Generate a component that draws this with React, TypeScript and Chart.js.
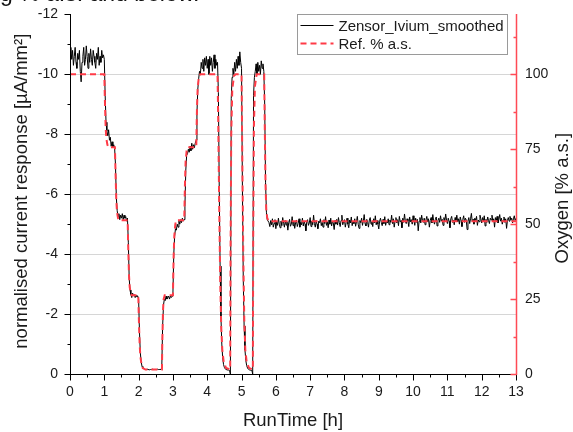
import React, { useEffect, useRef } from "react";
import { Chart, registerables } from "chart.js";

Chart.register(...registerables);

// ---------- labels ----------
const sensorLabel = "Zensor_Ivium_smoothed";
const refLabel = "Ref. % a.s.";
const xTitle = "RunTime [h]";
const yTitle = "normalised current response [µA/mm²]";
const y2Title = "Oxygen [% a.s.]";
const clippedCaption = "g % a.s. and below.";

// ---------- axis ticks ----------
const xMajorTicks = [0, 1, 2, 3, 4, 5, 6, 7, 8, 9, 10, 11, 12, 13];
const xMinorTicks = [0.5, 1.5, 2.5, 3.5, 4.5, 5.5, 6.5, 7.5, 8.5, 9.5, 10.5, 11.5, 12.5];
const yMajorTicks = [0, -2, -4, -6, -8, -10, -12];
const yMinorTicks = [-1, -3, -5, -7, -9, -11];
const y2MajorTicks = [0, 25, 50, 75, 100];
const y2MinorTicks = [12.5, 37.5, 62.5, 87.5, 112.5];

// ---------- reference oxygen (% a.s.) ----------
const refTimes = [
  0, 1.0, 1.02, 1.04, 1.06, 1.09, 1.12, 1.31, 1.33, 1.35, 1.37, 1.4, 1.43,
  1.68, 1.7, 1.72, 1.74, 1.77, 1.8, 1.99, 2.01, 2.03, 2.05, 2.08, 2.12, 2.2,
  2.68, 2.69, 2.71, 2.73, 2.76, 3.0, 3.02, 3.04, 3.07, 3.1, 3.33, 3.35, 3.37,
  3.4, 3.44, 3.68, 3.7, 3.72, 3.75, 3.8, 4.3, 4.32, 4.35, 4.38, 4.41, 4.44,
  4.48, 4.55, 4.67, 4.68, 4.7, 4.73, 4.78, 4.83, 5.0, 5.02, 5.05, 5.08, 5.11,
  5.15, 5.22, 5.33, 5.34, 5.36, 5.39, 5.44, 5.66, 5.68, 5.7, 5.72, 5.75, 5.8, 13,
];
const refOxygen = [
  100, 100, 90, 82, 78.5, 76.5, 75.7, 75.7, 66, 58, 54, 52, 51.3,
  51.3, 41, 33, 29, 27, 26.3, 26.3, 17, 10, 6, 3.5, 2, 1.5,
  1.5, 10, 21, 25, 26.3, 26.3, 39, 46, 50, 51.3, 51.3, 63, 71,
  74.5, 75.7, 75.7, 88, 95, 98.5, 100, 100, 85, 55, 30, 15, 8,
  4, 2, 1.5, 40, 80, 95, 99.5, 100, 100, 75, 40, 18, 8,
  4, 2, 1.5, 45, 82, 96, 100, 100, 80, 63, 55, 52, 51, 51,
];

// ---------- sensor current (µA/mm²), sampled ----------
const sensorFastStartH = 0;
const sensorFastStepH = 0.025;
const sensorFastValues = [
  -10.7, -10.9, -10.5, -10.8, -10.3, -10.6, -10.9, -10.4, -10.2, -10.7, -10.5, -10.8, -10.1, -9.75, -10.4, -10.6, -10.9, -10.3, -10.5, -10.95,
  -10.6, -10.2, -10.7, -10.4, -10.85, -10.5, -10.3, -10.8, -10.6, -10.4, -10.2, -10.7, -10.5, -10.9, -10.3, -10.6, -10.4, -10.8, -10.55, -10.65,
  -10.5, -9.3, -8.4, -8.1, -7.95, -8.15, -7.8, -7.9, -7.6, -7.75, -7.55, -7.65, -7.55, -7.0, -5.9, -5.45, -5.25, -5.35, -5.15, -5.3,
  -5.2, -5.35, -5.15, -5.3, -5.2, -5.25, -5.1, -5.2, -4.4, -3.2, -2.8, -2.65, -2.55, -2.7, -2.6, -2.65, -2.55, -2.62, -2.58, -2.6,
  -2.5, -1.4, -0.7, -0.4, -0.25, -0.2, -0.17, -0.16, -0.15, -0.15, -0.16, -0.15, -0.15, -0.14, -0.15, -0.15, -0.16, -0.15, -0.15, -0.15,
  -0.15, -0.15, -0.16, -0.15, -0.15, -0.15, -0.16, -0.2, -1.6, -2.3, -2.5, -2.45, -2.6, -2.5, -2.55, -2.6, -2.5, -2.6, -2.55, -2.6,
  -2.7, -4.0, -4.6, -4.85, -4.8, -5.0, -4.9, -5.1, -5.0, -5.15, -5.05, -5.2, -5.1, -5.15, -5.6, -6.8, -7.3, -7.35, -7.5, -7.4,
  -7.6, -7.45, -7.7, -7.5, -7.65, -7.55, -7.7, -7.8, -8.7, -9.5, -9.85, -10.1, -10.0, -10.4, -10.2, -10.5, -10.1, -10.55, -10.3, -10.6,
  -10.2, -10.5, -10.0, -10.6, -10.3, -10.55, -10.1, -10.4, -10.65, -10.2, -10.5, -10.3, -10.4, -9.4, -6.2, -3.6, -1.9, -1.0, -0.55, -0.32,
  -0.22, -0.17, -0.15, -0.14, -0.13, -0.13, -0.12, 0.0, -9.2, -9.9, -10.2, -10.0, -10.4, -10.1, -10.5, -10.2, -10.6, -10.3, -10.75, -10.4,
  -10.2, -6.3, -3.2, -1.6, -0.8, -0.45, -0.28, -0.2, -0.16, -0.14, -0.13, -0.13, -0.12, 0.0, -9.3, -9.9, -10.1, -10.35, -10.0, -10.4,
  -10.1, -10.3, -10.0, -10.45, -10.2, -10.35, -10.1, -9.0, -6.4, -5.4, -5.15,
];
const sensorTailStartH = 5.8;
const sensorTailStepH = 0.025;
const sensorTailValues = [
  -5.05, -4.92, -5.12, -4.98, -5.18, -4.9, -5.02, -5.15, -4.85, -5.08, -4.96, -5.2, -5.0, -4.88, -5.1, -4.95, -5.22, -5.03, -4.9, -5.12,
  -4.97, -5.08, -4.8, -5.05, -5.16, -4.93, -5.0, -5.25, -4.95, -5.1, -4.86, -5.04, -5.14, -4.92, -5.02, -5.18, -4.9, -5.06, -4.98, -5.2,
  -4.94, -5.1, -5.0, -4.78, -5.08, -5.15, -4.96, -5.04, -5.22, -4.92, -5.1, -4.98, -5.3, -5.02, -4.9, -5.12, -5.0, -4.85, -5.1, -5.05,
  -5.18, -4.95, -5.06, -4.9, -5.15, -5.02, -5.25, -4.96, -5.08, -4.88, -5.14, -5.0, -5.2, -4.94, -5.1, -5.04, -4.82, -5.12, -5.0, -5.16,
  -4.97, -5.22, -5.05, -4.92, -5.12, -5.3, -4.98, -5.08, -5.15, -4.9, -5.06, -5.2, -5.0, -4.88, -5.14, -5.04, -5.24, -4.95, -5.1, -5.02,
  -5.18, -4.93, -5.08, -5.26, -5.0, -4.86, -5.12, -5.05, -5.2, -4.96, -5.1, -5.32, -5.02, -4.94, -5.16, -5.06, -4.9, -5.14, -5.22, -5.0,
  -5.08, -4.92, -5.18, -5.04, -5.28, -4.98, -5.12, -5.0, -4.84, -5.1, -5.2, -5.06, -4.95, -5.16, -5.02, -5.25, -4.96, -5.1, -5.04, -5.18,
  -4.98, -5.14, -5.06, -5.3, -5.02, -5.18, -4.9, -5.1, -5.22, -5.04, -5.15, -4.95, -5.26, -5.08, -5.12, -4.88, -5.2, -5.06, -5.34, -5.1,
  -5.02, -5.18, -5.1, -4.92, -5.24, -5.08, -5.15, -5.0, -5.28, -5.12, -4.96, -5.2, -5.06, -5.16, -4.78, -5.1, -5.22, -5.04, -5.3, -5.12,
  -5.06, -5.2, -4.98, -5.14, -5.26, -5.08, -5.18, -4.9, -5.12, -5.22, -5.04, -5.32, -5.1, -5.0, -5.16, -5.24, -4.94, -5.12, -5.2, -5.06,
  -5.28, -5.1, -5.16, -4.96, -5.22, -5.08, -5.34, -5.14, -5.02, -5.2, -5.1, -4.88, -5.18, -5.26, -5.06, -5.14, -4.98, -5.22, -5.12, -5.3,
  -5.08, -5.18, -5.0, -5.24, -5.12, -4.92, -5.16, -5.28, -5.06, -5.2, -5.14, -4.82, -5.1, -5.22, -5.02, -5.18, -5.36, -5.08, -5.16, -5.0,
  -5.2, -5.12, -5.26, -4.96, -5.14, -5.08, -5.3, -5.18, -5.04, -5.22, -5.1, -5.28, -4.94, -5.16, -5.06, -5.24, -5.12, -5.02, -5.2, -5.14,
  -5.3, -5.08, -5.18, -4.9, -5.22, -5.12, -5.26, -5.04, -5.16, -5.32, -5.1, -5.2, -5.0, -5.14, -5.24, -5.06, -5.18, -4.86, -5.12, -5.22,
  -5.1, -5.26, -5.14, -5.2, -5.04, -5.18, -5.28, -5.12, -5.2,
];

// ---------- styles ----------
const FONT = "'Liberation Sans', Arial, Helvetica, sans-serif";
const RED = "#ff3b47";
const AXIS_RED = "#ff4a55";
const TEXT = "#1a1a1a";
const GRID = "#d6d6d6";

function buildSensorPoints() {
  const pts: { x: number; y: number }[] = [];
  sensorFastValues.forEach((v, i) => pts.push({ x: +(sensorFastStartH + i * sensorFastStepH).toFixed(4), y: v }));
  sensorTailValues.forEach((v, i) => pts.push({ x: +(sensorTailStartH + i * sensorTailStepH).toFixed(4), y: v }));
  return pts;
}

const decorPlugin = {
  id: "decor",
  afterDraw(chart: any) {
    const ctx = chart.ctx as CanvasRenderingContext2D;
    const { left, right, top, bottom } = chart.chartArea;
    const xs = chart.scales.x;
    const ys = chart.scales.y;
    const y2 = chart.scales.y2;
    const L = Math.round(left) + 0.5;
    const R = Math.round(right) + 0.5;
    const B = Math.round(bottom) + 0.5;
    const T = Math.round(top);
    ctx.save();
    ctx.lineWidth = 1;

    // black axes
    ctx.strokeStyle = "#000";
    ctx.beginPath();
    ctx.moveTo(L, T);
    ctx.lineTo(L, B);
    ctx.moveTo(L - 0.5, B);
    ctx.lineTo(R, B);
    xMajorTicks.forEach((v) => {
      const p = Math.round(xs.getPixelForValue(v)) + 0.5;
      ctx.moveTo(p, B);
      ctx.lineTo(p, B + 6);
    });
    xMinorTicks.forEach((v) => {
      const p = Math.round(xs.getPixelForValue(v)) + 0.5;
      ctx.moveTo(p, B);
      ctx.lineTo(p, B + 3);
    });
    yMajorTicks.forEach((v) => {
      const p = Math.round(ys.getPixelForValue(v)) + 0.5;
      ctx.moveTo(L, p);
      ctx.lineTo(L - 6, p);
    });
    yMinorTicks.forEach((v) => {
      const p = Math.round(ys.getPixelForValue(v)) + 0.5;
      ctx.moveTo(L, p);
      ctx.lineTo(L - 3, p);
    });
    ctx.stroke();

    // red right axis
    ctx.strokeStyle = AXIS_RED;
    ctx.lineWidth = 1.5;
    ctx.beginPath();
    ctx.moveTo(R, T);
    ctx.lineTo(R, B + 0.5);
    y2MajorTicks.forEach((v) => {
      const p = Math.round(y2.getPixelForValue(v)) + 0.5;
      ctx.moveTo(R, p);
      ctx.lineTo(R - 6, p);
    });
    y2MinorTicks.forEach((v) => {
      const p = Math.round(y2.getPixelForValue(v)) + 0.5;
      ctx.moveTo(R, p);
      ctx.lineTo(R - 3, p);
    });
    ctx.stroke();

    // axis titles
    ctx.fillStyle = TEXT;
    ctx.font = `18.5px ${FONT}`;
    ctx.textAlign = "center";
    ctx.textBaseline = "alphabetic";
    ctx.fillText(xTitle, (left + right) / 2, 426);
    ctx.save();
    ctx.translate(27, (top + bottom) / 2 - 3);
    ctx.rotate(-Math.PI / 2);
    ctx.fillText(yTitle, 0, 0);
    ctx.restore();
    ctx.save();
    ctx.translate(568, (top + bottom) / 2 + 4);
    ctx.rotate(-Math.PI / 2);
    ctx.fillText(y2Title, 0, 0);
    ctx.restore();

    // legend box
    const bx = Math.round(right) - 219 + 0.5;
    const by = T + 0.5;
    const bw = 210;
    const bh = 40;
    ctx.fillStyle = "#fff";
    ctx.fillRect(bx, by, bw, bh);
    ctx.strokeStyle = "#9a9a9a";
    ctx.lineWidth = 1;
    ctx.strokeRect(bx, by, bw, bh);
    const ds = chart.data.datasets;
    const rows = [ds[1], ds[0]];
    rows.forEach((d: any, i: number) => {
      const yy = by + 11 + i * 18;
      ctx.beginPath();
      ctx.strokeStyle = d.borderColor;
      ctx.lineWidth = d.borderWidth;
      ctx.setLineDash(d.borderDash || []);
      ctx.moveTo(bx + 3, yy);
      ctx.lineTo(bx + 36, yy);
      ctx.stroke();
      ctx.setLineDash([]);
      ctx.fillStyle = TEXT;
      ctx.font = `15px ${FONT}`;
      ctx.textAlign = "left";
      ctx.textBaseline = "middle";
      ctx.fillText(d.label, bx + 41, yy + 1);
    });
    ctx.restore();
  },
};

export default function App() {
  const canvasRef = useRef<HTMLCanvasElement | null>(null);

  useEffect(() => {
    const canvas = canvasRef.current;
    if (!canvas) return;
    const refPoints = refTimes.map((t, i) => ({ x: t, y: refOxygen[i] }));
    const sensorPoints = buildSensorPoints();
    const tickFont = { family: FONT, size: 14 };

    const chart = new Chart(canvas, {
      type: "line",
      data: {
        datasets: [
          {
            label: refLabel,
            data: refPoints,
            yAxisID: "y2",
            borderColor: RED,
            borderWidth: 2,
            borderDash: [6, 4],
            pointRadius: 0,
            tension: 0,
            order: 0,
          },
          {
            label: sensorLabel,
            data: sensorPoints,
            yAxisID: "y",
            borderColor: "#000",
            borderWidth: 1,
            pointRadius: 0,
            tension: 0,
            order: 1,
          },
        ],
      } as any,
      options: {
        responsive: false,
        animation: false,
        devicePixelRatio: 1,
        parsing: false as any,
        normalized: true,
        layout: { padding: { top: 14, left: 0, right: 0, bottom: 0 } },
        plugins: {
          legend: { display: false },
          tooltip: { enabled: false },
          title: { display: false },
        },
        scales: {
          x: {
            type: "linear",
            min: 0,
            max: 13,
            afterFit: (s: any) => {
              s.height = 58;
            },
            grid: { drawOnChartArea: false, tickLength: 6, tickColor: "transparent" },
            border: { display: false },
            ticks: {
              stepSize: 1,
              padding: 4,
              color: TEXT,
              font: tickFont,
              maxRotation: 0,
              autoSkip: false,
            },
          },
          y: {
            type: "linear",
            position: "left",
            reverse: true,
            min: -12,
            max: 0,
            afterFit: (s: any) => {
              s.width = 70;
            },
            grid: {
              color: (c: any) =>
                c.tick && c.tick.value !== 0 && c.tick.value !== -12 ? GRID : "transparent",
              lineWidth: 1,
              tickLength: 6,
              tickColor: "transparent",
            },
            border: { display: false },
            ticks: { stepSize: 2, padding: 6, color: TEXT, font: tickFont },
          },
          y2: {
            type: "linear",
            position: "right",
            min: 0,
            max: 120,
            afterFit: (s: any) => {
              s.width = 57;
            },
            grid: { drawOnChartArea: false, tickLength: 6, tickColor: "transparent" },
            border: { display: false },
            ticks: {
              stepSize: 25,
              padding: 3,
              color: TEXT,
              font: tickFont,
              callback: (v: any) => (Number(v) % 25 === 0 ? String(v) : ""),
            },
          },
        },
      } as any,
      plugins: [decorPlugin],
    });
    return () => chart.destroy();
  }, []);

  return (
    <div
      style={{
        position: "fixed",
        left: 0,
        top: 0,
        width: 573,
        height: 432,
        background: "#fff",
        overflow: "hidden",
      }}
    >
      <div
        style={{
          position: "absolute",
          left: 0,
          top: -17,
          fontFamily: FONT,
          fontSize: 23,
          lineHeight: "20px",
          color: "#111",
          whiteSpace: "nowrap",
        }}
      >
        {clippedCaption}
      </div>
      <canvas ref={canvasRef} width={573} height={432} style={{ display: "block" }} />
    </div>
  );
}
